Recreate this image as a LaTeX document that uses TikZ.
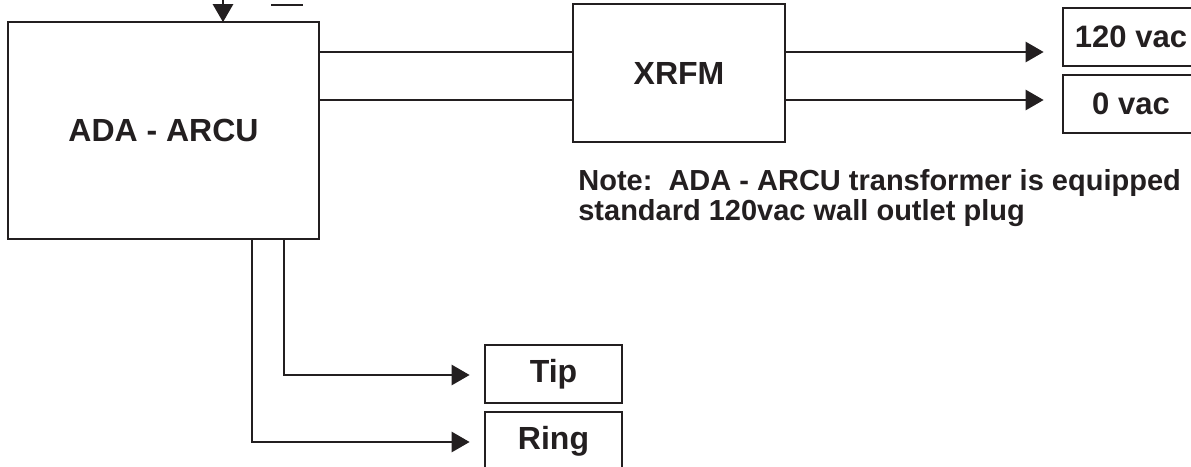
\documentclass[tikz,border=0pt]{standalone}
\usepackage{fontspec}
\setmainfont{Liberation Sans}
\usetikzlibrary{arrows.meta,calc}
\definecolor{ink}{RGB}{35,31,32}
\begin{document}
\begin{tikzpicture}[x=1pt,y=-1pt,
  line width=2.7pt, draw=ink, text=ink,
  box/.style={draw=ink, line width=2.7pt, rectangle, inner sep=0pt, font=\fontsize{32}{36}\selectfont\bfseries},
  arr/.style={-{Triangle[length=18pt,width=20pt]}, draw=ink},
  wire/.style={draw=ink}]
\clip (0,0) rectangle (1191,466);
\fill[white] (0,0) rectangle (1191,466);

\node[box, minimum width=311pt, minimum height=217pt] (ada) at (163.5,130.5) {ADA - ARCU};
\node[box, minimum width=212pt, minimum height=138pt] (xrfm) at (679,73) {XRFM};
\node[box, minimum width=136pt, minimum height=58pt, font=\fontsize{31}{34}\selectfont\bfseries] (v120) at (1131,37) {120 vac};
\node[box, minimum width=136pt, minimum height=58pt, font=\fontsize{31}{34}\selectfont\bfseries] (v0) at (1131,104) {0 vac};
\node[box, minimum width=137pt, minimum height=58pt] (tip) at (553.5,374) {Tip};
\node[box, minimum width=137pt, minimum height=58pt] (ring) at (553.5,441) {Ring};

\node[anchor=north west, inner sep=0pt, align=left, text=ink,
      font=\fontsize{29}{30}\selectfont\bfseries] (note) at (577,168.5)
  {Note:\ \ ADA - ARCU transformer is equipped\\standard 120vac wall outlet plug};

% top input arrow and short line
\coordinate (topin) at (223,-10);
\draw[arr] (topin) -- ([yshift=-1.5pt]topin |- ada.north);
\coordinate (barL) at (271,5);
\coordinate (barR) at (303,5);
\draw[wire] (barL) -- (barR);

% ADA to XRFM
\draw[wire] (ada.east |- 0,52) -- (xrfm.west |- 0,52);
\draw[wire] (ada.east |- 0,100) -- (xrfm.west |- 0,100);

% XRFM to outputs
\draw[arr] (xrfm.east |- 0,52) -- ([xshift=-18pt]v120.west |- 0,52);
\draw[arr] (xrfm.east |- 0,100) -- ([xshift=-18pt]v0.west |- 0,100);

% ADA to Tip / Ring
\draw[arr] (ada.south -| 284,0) |- ([xshift=-14pt]tip.west |- 0,375);
\draw[arr] (ada.south -| 252,0) |- ([xshift=-14pt]ring.west |- 0,442);
\end{tikzpicture}
\end{document}
